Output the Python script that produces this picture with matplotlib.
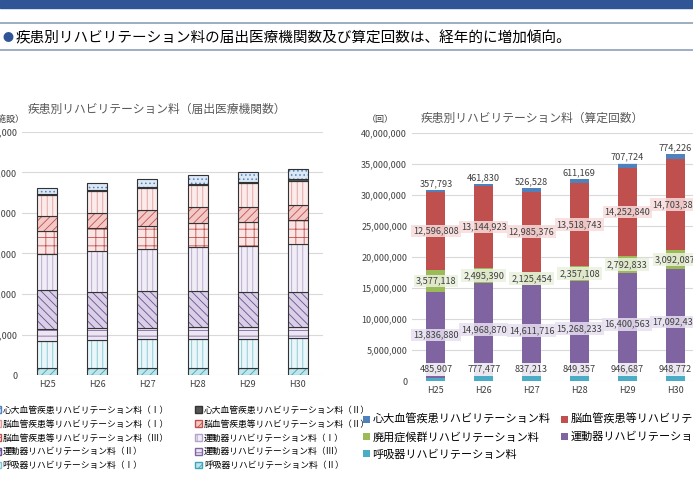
import matplotlib.pyplot as plt
import matplotlib.patches as mpatches
import numpy as np

plt.rcParams['font.family'] = ['Noto Sans CJK JP', 'DejaVu Sans']
plt.rcParams['hatch.linewidth'] = 0.6

years = ['H25', 'H26', 'H27', 'H28', 'H29', 'H30']

# 左: 届出医療機関数 (下から積み上げ)
left_names = ['呼吸器リハビリテーション料（Ⅱ）', '呼吸器リハビリテーション料（Ⅰ）',
              '運動器リハビリテーション料（Ⅲ）', '運動器リハビリテーション料（Ⅱ）',
              '運動器リハビリテーション料（Ⅰ）', '脳血管疾患等リハビリテーション料（Ⅲ）',
              '脳血管疾患等リハビリテーション料（Ⅱ）', '脳血管疾患等リハビリテーション料（Ⅰ）',
              '心大血管疾患リハビリテーション料（Ⅱ）', '心大血管疾患リハビリテーション料（Ⅰ）']
kokyu2 = [1818, 1818, 1653, 1653, 1653, 1653]
kokyu1 = [6612, 6942, 7190, 7190, 7355, 7438]
undo3 = [2892, 2727, 2810, 2975, 2810, 2727]
undo2 = [9670, 9009, 9008, 8843, 8678, 8678]
undo1 = [8925, 10000, 10496, 10992, 11405, 11901]
nou3 = [5703, 5785, 5703, 5868, 5785, 5785]
nou2 = [3636, 3802, 3966, 3884, 3884, 3884]
nou1 = [5124, 5289, 5455, 5537, 5868, 5951]
shin2 = [331, 248, 248, 331, 248, 330]
shin1 = [1405, 1735, 1983, 2148, 2314, 2397]
left_series = [kokyu2, kokyu1, undo3, undo2, undo1, nou3, nou2, nou1, shin2, shin1]
left_style = [  # (face, hatch colour, hatch)
    ('#bfe6ec', '#3aa6b9', '////'), ('#eaf6f9', '#7fc6d4', '|||'),
    ('#ece6f3', '#8064a2', '---'), ('#d9cfe6', '#6a4f92', '\\\\\\\\'),
    ('#f1edf6', '#b3a2c9', '|||'), ('#fbe5e4', '#c0504d', '++'),
    ('#f3c9c7', '#c0504d', '////'), ('#fbeceb', '#e09a98', '|||'),
    ('#555555', '#333333', ''), ('#dde8f5', '#4f81bd', '....')]

# 右: 算定回数
right_names = ['呼吸器リハビリテーション料', '運動器リハビリテーション料', '廃用症候群リハビリテーション料',
               '脳血管疾患等リハビリテーション料', '心大血管疾患リハビリテーション料']
r_kokyu = [485907, 777477, 837213, 849357, 946687, 948772]
r_undo = [13836880, 14968870, 14611716, 15268233, 16400563, 17092435]
r_haiyo = [3577118, 2495390, 2125454, 2357108, 2792833, 3092087]
r_nou = [12596808, 13144923, 12985376, 13518743, 14252840, 14703381]
r_shin = [357793, 461830, 526528, 611169, 707724, 774226]
right_series = [r_kokyu, r_undo, r_haiyo, r_nou, r_shin]
right_colors = ['#4bacc6', '#8064a2', '#9bbb59', '#c0504d', '#4f81bd']
label_bg = ['#ffffff', '#e6dff0', '#eaf1dd', '#f7dcdb', '#ffffff']

fig = plt.figure(figsize=(6.93, 4.86), dpi=100)

# ヘッダー
fig.patches.append(mpatches.Rectangle((0, 1 - 8 / 486), 1, 8 / 486, transform=fig.transFigure,
                                      color='#2f5597'))
for yy in [23, 50]:
    fig.add_artist(plt.Line2D([0, 1], [1 - yy / 486] * 2, transform=fig.transFigure,
                              color='#8ea0b8', lw=1.2))
fig.text(0.003, 1 - 38 / 486, '●', color='#2f5597', fontsize=8, va='center')
fig.text(0.022, 1 - 38 / 486, '疾患別リハビリテーション料の届出医療機関数及び算定回数は、経年的に増加傾向。',
         fontsize=10.5, va='center', color='black')

x = np.arange(len(years))

# 左グラフ
ax1 = fig.add_axes([22 / 693, 111 / 486, 301 / 693, 243 / 486])
bottom = np.zeros(len(years))
handles = []
for vals, (fc, hc, ht), name in zip(left_series, left_style, left_names):
    ax1.bar(x, vals, 0.4, bottom=bottom, color=fc, hatch=ht, edgecolor=hc, lw=0)
    ax1.bar(x, vals, 0.4, bottom=bottom, fill=False, edgecolor='#333333', lw=0.8)
    bottom += np.array(vals)
    handles.append(mpatches.Patch(facecolor=fc, edgecolor=hc, hatch=ht, label=name))
ax1.set_ylim(0, 60000)
ax1.set_xlim(-0.5, 5.5)
ax1.set_yticks(range(0, 60001, 10000))
ax1.set_yticklabels([f'{v:,}' for v in range(0, 60001, 10000)])
ax1.grid(axis='y', color='#d9d9d9', lw=0.8)
ax1.set_axisbelow(True)
for s in ax1.spines.values():
    s.set_visible(False)
ax1.tick_params(length=0, labelsize=6.5, colors='#404040')
ax1.set_xticks(x, years)
ax1.text(0.45, 1.08, '疾患別リハビリテーション料（届出医療機関数）', transform=ax1.transAxes,
         ha='center', fontsize=8.5, color='#595959')
ax1.text(-0.05, 1.04, '（施設）', transform=ax1.transAxes, ha='center', fontsize=6.5,
         color='#404040')
# 2列の凡例を行順に並べる
order = [9, 7, 5, 3, 1, 8, 6, 4, 2, 0]
fig.legend([handles[i] for i in order], [left_names[i] for i in order], ncol=2,
           loc='upper left', bbox_to_anchor=(-0.02, 1 - 398 / 486), frameon=False,
           fontsize=6.3, handlelength=0.8, handleheight=0.8, handletextpad=0.2,
           columnspacing=3.0, labelspacing=0.55)

# 右グラフ
ax2 = fig.add_axes([412 / 693, 105 / 486, 287 / 693, 248 / 486])
bottom = np.zeros(len(years))
for k, (vals, c, name) in enumerate(zip(right_series, right_colors, right_names)):
    ax2.bar(x, vals, 0.4, bottom=bottom, color=c, label=name)
    for i, v in enumerate(vals):
        if k == 0:
            y = 1.9e6
        elif k == 4:
            y = bottom[i] + v + 1.0e6
        else:
            y = bottom[i] + v / 2
        ax2.text(x[i], y, f'{v:,}', ha='center', va='center', fontsize=6.6, color='#404040',
                 bbox=dict(boxstyle='square,pad=0.2', fc=label_bg[k], ec='none', alpha=0.85))
    bottom += np.array(vals)
ax2.set_ylim(0, 40000000)
ax2.set_xlim(-0.5, 5.5)
ax2.set_yticks(range(0, 40000001, 5000000))
ax2.set_yticklabels([f'{v:,}' for v in range(0, 40000001, 5000000)])
ax2.grid(axis='y', color='#d9d9d9', lw=0.8)
ax2.set_axisbelow(True)
for s in ax2.spines.values():
    s.set_visible(False)
ax2.tick_params(length=0, labelsize=6.5, colors='#404040')
ax2.set_xticks(x, years)
ax2.text(0.42, 1.045, '疾患別リハビリテーション料（算定回数）', transform=ax2.transAxes,
         ha='center', fontsize=8.5, color='#595959')
ax2.text(-0.11, 1.045, '（回）', transform=ax2.transAxes, ha='center', fontsize=6.5,
         color='#404040')
h2, l2 = ax2.get_legend_handles_labels()
ro = [4, 2, 0, 3, 1]
fig.legend([h2[i] for i in ro], [l2[i] for i in ro], ncol=2, loc='upper left',
           bbox_to_anchor=(0.51, 1 - 404 / 486), frameon=False, fontsize=8,
           handlelength=0.6, handleheight=0.6, handletextpad=0.2, columnspacing=1.0,
           labelspacing=0.6)

fig.savefig('out.png', dpi=100)
